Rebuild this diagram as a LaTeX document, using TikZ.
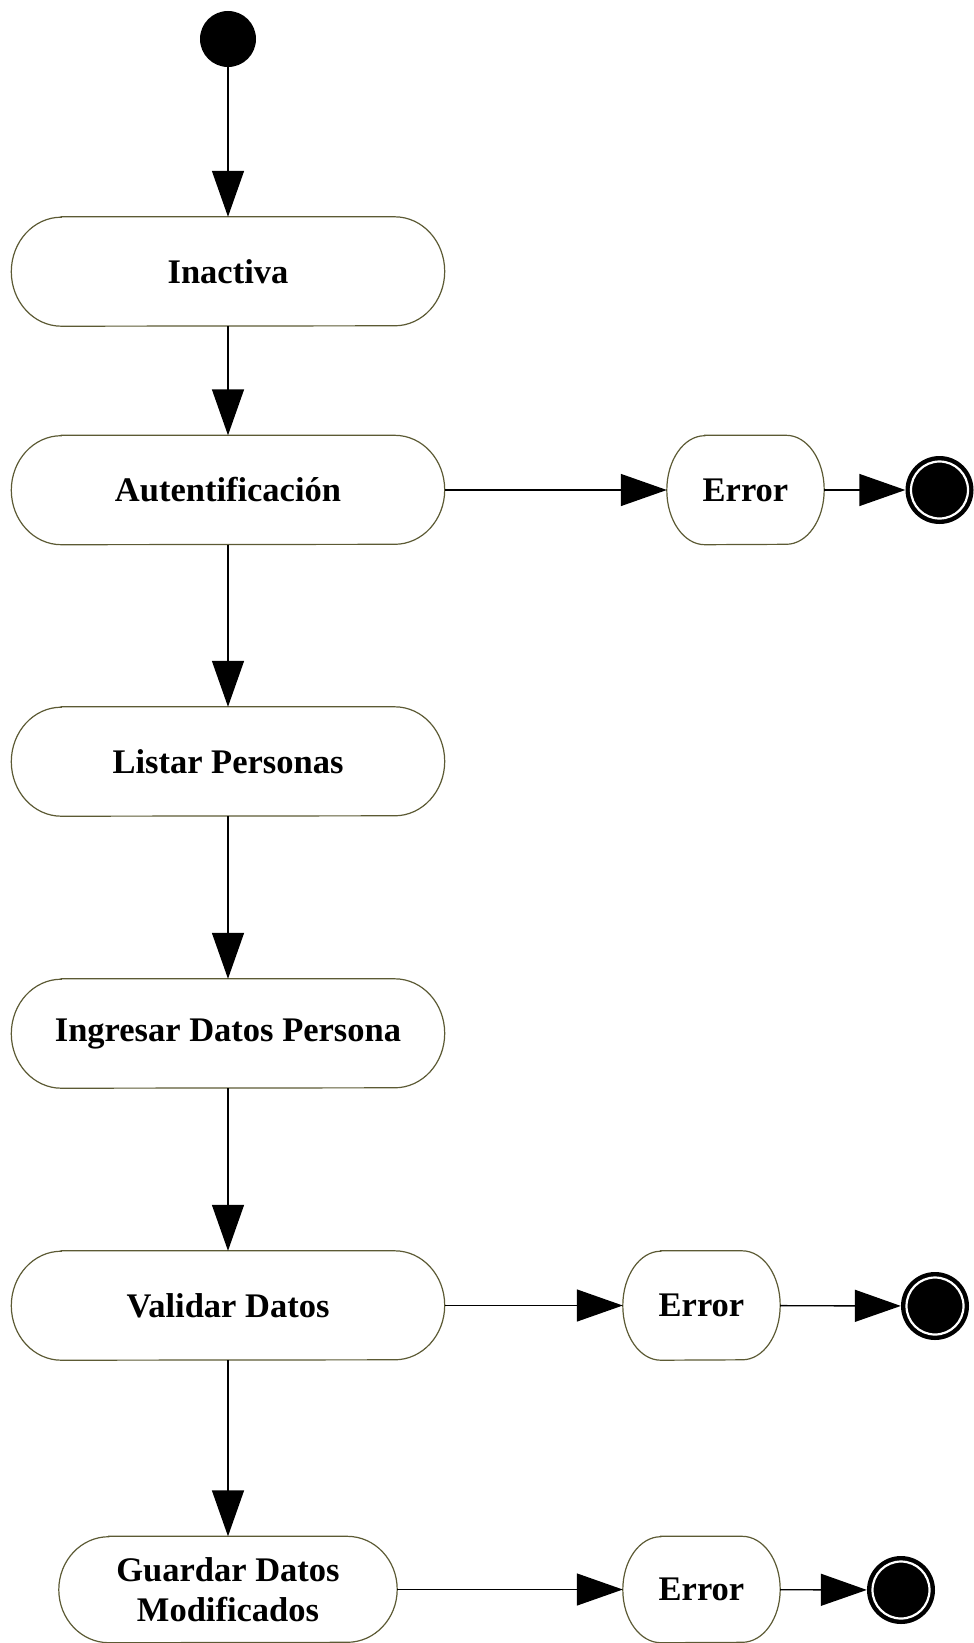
\documentclass[tikz,border=0pt]{standalone}
\usepackage{fontspec}
\setmainfont{Liberation Serif}
\usetikzlibrary{arrows.meta}

\definecolor{boxline}{RGB}{92,90,52}

\tikzset{
  capsuletext/.style={shape=rectangle, draw=none, inner sep=0pt, align=center,
    font=\fontsize{34.5}{40}\selectfont\bfseries},
  capsuleline/.style={draw=boxline, line width=1.2pt},
  flow/.style={draw=black, line width=1.4pt,
    -{Triangle[length=46pt,width=32pt]}},
  startstate/.style={circle, fill=black, draw=none, minimum size=56pt, inner sep=0pt},
  finalstate/.style={circle, fill=black, draw=none, minimum size=68pt, inner sep=0pt},
}

% #1 name, #2 cx, #3 cy, #4 width, #5 height, #6 end radius, #7 text
\newcommand{\capsule}[7]{%
  \node[capsuletext, minimum width=#4pt, minimum height=#5pt] (#1) at (#2,#3) {#7};
  \draw[capsuleline] ([xshift=#6pt]#1.north west) -- ([xshift=-#6pt]#1.north east)
    arc[start angle=90, end angle=-90, x radius=#6pt, y radius=#5/2 pt]
    -- ([xshift=#6pt]#1.south west)
    arc[start angle=270, end angle=90, x radius=#6pt, y radius=#5/2 pt] -- cycle;
}

% ring inside a final state
\newcommand{\finalring}[1]{\draw[white, line width=2.2pt] (#1.center) circle (28.5pt);}

\begin{document}
\begin{tikzpicture}[x=1pt, y=-1pt]
  \useasboundingbox (0,0) rectangle (974,1643);

  % initial state
  \node[startstate] (start) at (228,39) {};

  % main column
  \capsule{inactiva}{228}{271.5}{433}{109}{50}{Inactiva}
  \capsule{auth}{228}{490}{433}{109}{50}{Autentificación}
  \capsule{listar}{228}{761.5}{433}{109}{50}{Listar Personas}
  \capsule{ingresar}{228}{1033.5}{433}{109}{50}{Ingresar Datos Persona}
  \capsule{validar}{228}{1305.5}{433}{109}{50}{Validar Datos}
  \capsule{guardar}{228}{1589.5}{338}{106}{50}{Guardar Datos\\Modificados}

  % error branches
  \capsule{errA}{745.5}{490}{157}{109}{38}{Error}
  \capsule{errB}{701.5}{1305.5}{157}{109}{38}{Error}
  \capsule{errC}{701.5}{1589.5}{157}{106}{38}{Error}

  % final states
  \node[finalstate] (endA) at (939.5,490) {};
  \node[finalstate] (endB) at (935,1306) {};
  \node[finalstate] (endC) at (901,1590) {};
  \finalring{endA}
  \finalring{endB}
  \finalring{endC}

  % transitions
  \draw[flow] (start) -- (inactiva);
  \draw[flow] (inactiva) -- (auth);
  \draw[flow] (auth) -- (listar);
  \draw[flow] (listar) -- (ingresar);
  \draw[flow] (ingresar) -- (validar);
  \draw[flow] (validar) -- (guardar);

  \draw[flow] (auth) -- (errA);
  \draw[flow] (errA) -- (endA);
  \draw[flow] (validar) -- (errB);
  \draw[flow] (errB) -- (endB);
  \draw[flow] (guardar) -- (errC);
  \draw[flow] (errC) -- (endC);
\end{tikzpicture}
\end{document}
